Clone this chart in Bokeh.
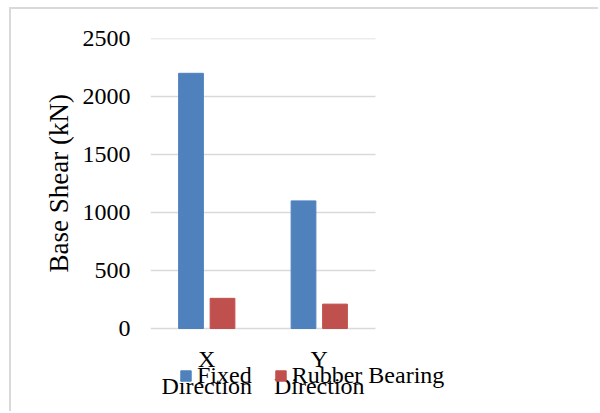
import numpy as np
from bokeh.plotting import figure
from bokeh.models import (ColumnDataSource, Legend, LegendItem, FixedTicker,
                          NumeralTickFormatter, Range1d, Title)
from bokeh.core.properties import value
from bokeh.embed import file_html
from bokeh.resources import INLINE

# data
categories = ["X", "Y"]
category_second_line = ["Direction", "Direction"]
series_names = ["Fixed", "Rubber Bearing"]
fixed = [2200, 1100]
rubber = [260, 210]
y_ticks = [0, 500, 1000, 1500, 2000, 2500]

FONT = "Liberation Serif"
GRID = "#d9d9d9"

# layout constants (pixels)
W, H = 589, 404
LEFT, TOP, RIGHT, BOTTOM = 139, 29, 2, 2
BAND_PX = 112.5            # width of one category band
PLOT_PX = 290              # height of the 0..2500 value axis
frame_w = W - LEFT - RIGHT
frame_h = H - TOP - BOTTOM
y_max = y_ticks[-1]
y_min = -(frame_h - PLOT_PX) * y_max / PLOT_PX
x_max = frame_w / BAND_PX

centers = np.arange(len(categories)) + 0.5
src = ColumnDataSource(dict(cat=categories, line2=category_second_line,
                            xc=centers, x_fixed=centers - 0.14, x_rubber=centers + 0.14,
                            zero=[0] * len(categories), fixed=fixed, rubber=rubber))
grid_src = ColumnDataSource(dict(y=y_ticks))

p = figure(x_range=Range1d(0, x_max), y_range=Range1d(y_min, y_max), width=W, height=H,
           output_backend="svg", toolbar_location=None,
           min_border_left=LEFT, min_border_right=RIGHT, min_border_top=TOP, min_border_bottom=BOTTOM)
p.styles = {"margin-left": "9px", "margin-top": "7px",
            "border-left": "2px solid #d9d9d9", "border-top": "2px solid #d9d9d9"}

p.outline_line_color = None
p.background_fill_color = "white"
p.border_fill_color = "white"
p.xgrid.visible = False
p.ygrid.visible = False

# horizontal gridlines spanning the category bands only
p.segment(x0=0, x1=len(categories), y0="y", y1="y", source=grid_src,
          line_color=GRID, line_width=1.5)

r1 = p.vbar(x="x_fixed", top="fixed", width=0.22, source=src,
            fill_color="#4F81BD", line_color="#4F81BD")
r2 = p.vbar(x="x_rubber", top="rubber", width=0.22, source=src,
            fill_color="#C0504D", line_color="#C0504D")

# category labels (two lines) under the zero line
p.text(x="xc", y="zero", text="cat", source=src, y_offset=30,
       text_align="center", text_baseline="alphabetic",
       text_font=value(FONT), text_font_size="24px", text_color="black")
p.text(x="xc", y="zero", text="line2", source=src, y_offset=57,
       text_align="center", text_baseline="alphabetic",
       text_font=value(FONT), text_font_size="24px", text_color="black")

p.xaxis.visible = False

p.yaxis.ticker = FixedTicker(ticks=y_ticks)
p.yaxis.formatter = NumeralTickFormatter(format="0")
p.yaxis.axis_line_color = None
p.yaxis.major_tick_line_color = None
p.yaxis.major_tick_out = 0
p.yaxis.major_tick_in = 0
p.yaxis.minor_tick_line_color = None
p.yaxis.major_label_text_font = FONT
p.yaxis.major_label_text_font_size = "24px"
p.yaxis.major_label_text_color = "black"
p.yaxis.major_label_standoff = 20

ylabel = Title(text="Base Shear (kN)", align="left", offset=139, vertical_align="middle",
               standoff=9, text_font=FONT, text_font_size="27px",
               text_font_style="normal", text_color="black")
p.add_layout(ylabel, "left")

legend = Legend(items=[LegendItem(label=series_names[0], renderers=[r1]),
                       LegendItem(label=series_names[1], renderers=[r2])],
                location=(29, 22), orientation="horizontal",
                label_text_font=FONT, label_text_font_size="24px", label_text_color="black",
                glyph_width=13, glyph_height=13, label_standoff=5, spacing=22,
                padding=0, margin=0, border_line_color=None, background_fill_alpha=0)
p.add_layout(legend, "center")

open("out.html", "w").write(file_html(p, INLINE))
